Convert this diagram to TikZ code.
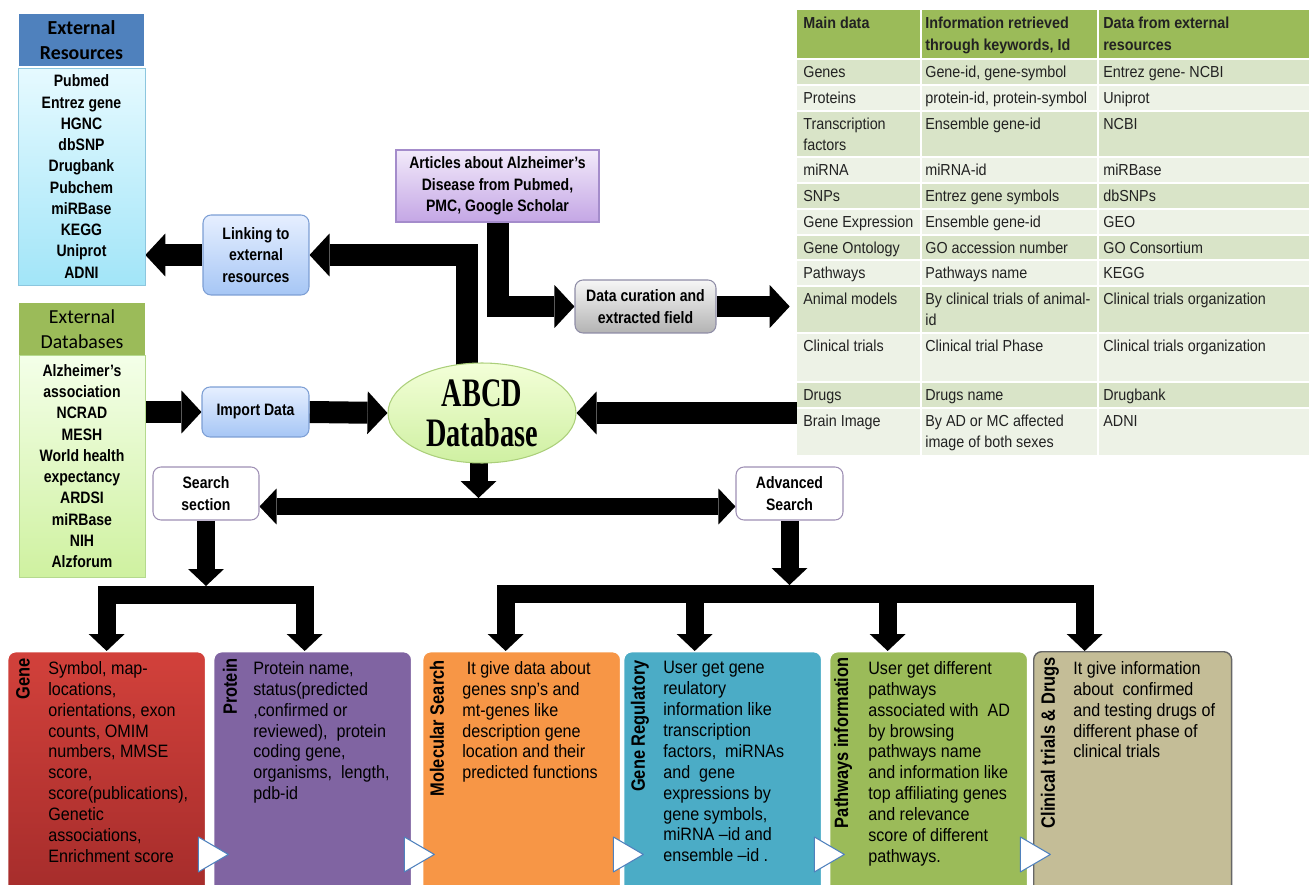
\documentclass[tikz,border=0pt]{standalone}
\usepackage{fontspec}
\setmainfont{Liberation Sans}
\newfontfamily\narrowsf[FakeStretch=0.85]{Liberation Sans}
\newfontfamily\bodysf[FakeStretch=0.9]{Liberation Sans}
\newfontfamily\headsf{Carlito}
\newfontfamily\abcdfont[FakeStretch=0.7]{Liberation Serif}
\usetikzlibrary{arrows.meta,positioning,shapes.geometric,backgrounds}

\definecolor{resblue}{HTML}{4F81BD}
\definecolor{restop}{HTML}{E6FAFF}
\definecolor{resbot}{HTML}{A2E5F8}
\definecolor{resline}{HTML}{8CC6DE}
\definecolor{dbgreen}{HTML}{9BBB59}
\definecolor{dbtop}{HTML}{F4FFE9}
\definecolor{dbbot}{HTML}{CFF1A0}
\definecolor{dbline}{HTML}{B5D98E}
\definecolor{lnktop}{HTML}{E6EFFF}
\definecolor{lnkbot}{HTML}{A6C6F5}
\definecolor{lnkline}{HTML}{7C9ED4}
\definecolor{arttop}{HTML}{F2EAFA}
\definecolor{artbot}{HTML}{C4A6E5}
\definecolor{artline}{HTML}{A48CCB}
\definecolor{curtop}{HTML}{F6F6F6}
\definecolor{curbot}{HTML}{B3B3B3}
\definecolor{curline}{HTML}{8E8CA6}
\definecolor{abcdtop}{HTML}{F3FFD8}
\definecolor{abcdbot}{HTML}{CFF0A2}
\definecolor{abcdline}{HTML}{ABCF7A}
\definecolor{srchline}{HTML}{9E8FB4}
\definecolor{genetop}{HTML}{D2413B}
\definecolor{genebot}{HTML}{A22B2A}
\definecolor{protcol}{HTML}{8064A2}
\definecolor{molcol}{HTML}{F79646}
\definecolor{regcol}{HTML}{4BACC6}
\definecolor{pathcol}{HTML}{9BBB59}
\definecolor{clincol}{HTML}{C4BD97}
\definecolor{tblA}{HTML}{D9E4C8}
\definecolor{tblB}{HTML}{EDF2E6}
\definecolor{tbltext}{HTML}{222222}

\begin{document}
\begin{tikzpicture}[x=0.02cm, y=-0.02cm,
    fat/.style={line width=0.44cm, line join=miter, -{Triangle[length=0.4cm, width=0.86cm, line width=0pt]}},
    fatdn/.style={line width=0.36cm, line join=miter, -{Triangle[length=0.34cm, width=0.72cm, line width=0pt]}},
    bus/.style={fatdn, {Triangle[length=0.34cm, width=0.72cm, line width=0pt]}-{Triangle[length=0.34cm, width=0.72cm, line width=0pt]}},
    lbl/.style={align=center, inner sep=0pt, font=\narrowsf\bfseries\fontsize{9.4}{12.1}\selectfont},
    hdr/.style={fill=#1, draw=white, line width=0.6pt, minimum width=2.54cm, minimum height=1.06cm, inner sep=0pt, align=center},
    box/.style={lbl, rounded corners=0.16cm, line width=0.6pt},
    card/.style={fill=#1, draw=white, line width=0.8pt, rounded corners=0.16cm, minimum width=3.96cm, minimum height=5.2cm, anchor=north west, inner sep=0pt},
    ttl/.style={rotate=90, anchor=east, inner sep=0pt, font=\narrowsf\bfseries\fontsize{11}{13}\selectfont},
    body/.style={anchor=north west, align=left, inner sep=0pt, font=\bodysf\fontsize{10.2}{11.9}\selectfont},
    tcell/.style={anchor=north west, align=left, inner sep=0pt, text=tbltext, font=\bodysf\fontsize{9.07}{11.9}\selectfont},
    chev/.style={fill=white, draw=resblue, line width=0.6pt, line join=round}
  ]
  \useasboundingbox (0,0) rectangle (1309,885);
  \clip (0,0) rectangle (1309,885);

  % Externe Quellen
  \node[hdr=resblue, font=\headsf\bfseries\fontsize{11.3}{14.2}\selectfont] (reshd) at (81.5,40) {External\\Resources};
  \node[lbl, draw=resline, top color=restop, bottom color=resbot, minimum width=2.54cm, minimum height=4.34cm] (res) at (81.5,176.5)
    {Pubmed\\Entrez gene\\HGNC\\dbSNP\\Drugbank\\Pubchem\\miRBase\\KEGG\\Uniprot\\ADNI};
  \node[hdr=dbgreen, font=\headsf\fontsize{11.3}{14.2}\selectfont] (dbhd) at (82,329) {External\\Databases};
  \node[lbl, draw=dbline, top color=dbtop, bottom color=dbbot, minimum width=2.52cm, minimum height=4.44cm] (db) at (82,466)
    {Alzheimer’s\\association\\NCRAD\\MESH\\World health\\expectancy\\ARDSI\\miRBase\\NIH\\Alzforum};

  % Kaesten
  \node[box, draw=lnkline, top color=lnktop, bottom color=lnkbot, minimum width=2.12cm, minimum height=1.6cm] (link) at (256,255) {Linking to\\external\\resources};
  \node[box, draw=lnkline, top color=lnktop, bottom color=lnkbot, minimum width=2.14cm, minimum height=1.0cm] (imp) at (255.5,412) {Import Data};
  \node[lbl, draw=artline, top color=arttop, bottom color=artbot, line width=0.6pt, minimum width=4.06cm, minimum height=1.44cm] (art) at (497.5,186)
    {Articles about Alzheimer’s\\Disease from Pubmed,\\PMC, Google Scholar};
  \node[box, draw=curline, top color=curtop, bottom color=curbot, minimum width=2.82cm, minimum height=1.06cm] (cur) at (645.5,306.5) {Data curation and\\extracted field};
  \node[ellipse, draw=abcdline, line width=0.6pt, top color=abcdtop, bottom color=abcdbot, minimum width=3.76cm, minimum height=2cm, inner sep=0pt] (abcd) at (482,413) {};
  \node[align=center, inner sep=0pt, font=\abcdfont\bfseries\fontsize{23}{22.7}\selectfont] (abcdtxt) at (abcd.center) {ABCD\\Database};
  \node[box, draw=srchline, fill=white, minimum width=2.12cm, minimum height=1.06cm] (srch) at (206,493.5) {Search\\section};
  \node[box, draw=srchline, fill=white, minimum width=2.14cm, minimum height=1.06cm] (adv) at (789.5,493.5) {Advanced\\Search};

  % Tabelle
  \node[minimum width=10.24cm, minimum height=8.9cm, inner sep=0pt] (tbl) at (1053,232.5) {};
  \fill[dbgreen] (797,10) rectangle (1309,59);
  \foreach \ya/\yb/\bg in {59/85/tblA, 85/111/tblB, 111/157/tblA, 157/183/tblB, 183/209/tblA, 209/235/tblB,
      235/260/tblA, 260/286/tblB, 286/333/tblA, 333/382/tblB, 382/408/tblA, 408/455/tblB}
    \fill[\bg] (797,\ya) rectangle (1309,\yb);
  \foreach \yy in {59,85,111,157,183,209,235,260,286,333,382,408}
    \draw[white, line width=0.8pt] (797,\yy) -- (1309,\yy);
  \foreach \xx in {921,1098}
    \draw[white, line width=1.4pt] (\xx,10) -- (\xx,455);
  \node[tcell, font=\bodysf\bfseries\fontsize{9.07}{12.4}\selectfont] (th1) at (803,17) {Main data};
  \node[tcell, font=\bodysf\bfseries\fontsize{9.07}{12.4}\selectfont] (th2) at (925,17) {Information retrieved\\through keywords, Id};
  \node[tcell, font=\bodysf\bfseries\fontsize{9.07}{12.4}\selectfont] (th3) at (1103,17) {Data from external\\resources};
  \foreach \ya/\ca/\cb/\cc [count=\i] in {
      59/Genes/{Gene-id, gene-symbol}/{Entrez gene- NCBI},
      85/Proteins/{protein-id, protein-symbol}/Uniprot,
      111/{Transcription\\factors}/Ensemble gene-id/NCBI,
      157/miRNA/miRNA-id/miRBase,
      183/SNPs/Entrez gene symbols/dbSNPs,
      209/Gene Expression/Ensemble gene-id/GEO,
      235/Gene Ontology/GO accession number/GO Consortium,
      260/Pathways/Pathways name/KEGG,
      286/Animal models/{By clinical trials of animal-\\id}/Clinical trials organization,
      333/Clinical trials/Clinical trial Phase/Clinical trials organization,
      382/Drugs/Drugs name/Drugbank,
      408/Brain Image/{By AD or MC affected\\image of both sexes}/ADNI}
  {
    \node[tcell] (tr\i a) at (803,\ya+7) {\ca};
    \node[tcell] (tr\i b) at (925,\ya+7) {\cb};
    \node[tcell] (tr\i c) at (1103,\ya+7) {\cc};
  }

  % Suchbereiche
  \node[card=genetop, top color=genetop, bottom color=genebot] (gene) at (7,651) {};
  \node[card=protcol] (prot) at (213,651) {};
  \node[card=molcol] (mol) at (422,651) {};
  \node[card=regcol] (reg) at (623,651) {};
  \node[card=pathcol] (path) at (829,651) {};
  \node[card=clincol, draw=black!60] (clin) at (1033,651) {};

  \node[ttl] (genet) at ([xshift=0.32cm,yshift=-0.14cm]gene.north west) {Gene};
  \node[ttl] (prott) at ([xshift=0.34cm,yshift=-0.14cm]prot.north west) {Protein};
  \node[ttl] (molt) at ([xshift=0.3cm,yshift=-0.18cm]mol.north west) {Molecular Search};
  \node[ttl] (regt) at ([xshift=0.34cm,yshift=-0.18cm]reg.north west) {Gene Regulatory};
  \node[ttl] (patht) at ([xshift=0.28cm,yshift=-0.12cm]path.north west) {Pathways information};
  \node[ttl] (clint) at ([xshift=0.34cm,yshift=-0.12cm]clin.north west) {Clinical trials \& Drugs};

  \node[body] (geneb) at ([xshift=0.82cm,yshift=-0.2cm]gene.north west)
    {Symbol, map-\\locations,\\orientations, exon\\counts, OMIM\\numbers, MMSE\\score,\\score(publications),\\Genetic\\associations,\\Enrichment score};
  \node[body] (protb) at ([xshift=0.8cm,yshift=-0.2cm]prot.north west)
    {Protein name,\\status(predicted\\,confirmed or\\reviewed),\ \ protein\\coding gene,\\organisms,\ \ length,\\pdb-id};
  \node[body] (molb) at ([xshift=0.8cm,yshift=-0.2cm]mol.north west)
    {\ It give data about\\genes snp’s and\\mt-genes like\\description gene\\location and their\\predicted functions};
  \node[body] (regb) at ([xshift=0.8cm,yshift=-0.2cm]reg.north west)
    {User get gene\\reulatory\\information like\\transcription\\factors,\ \ miRNAs\\and\ \ gene\\expressions by\\gene symbols,\\miRNA –id and\\ensemble –id .};
  \node[body] (pathb) at ([xshift=0.78cm,yshift=-0.2cm]path.north west)
    {User get different\\pathways\\associated with\ \ AD\\by browsing\\pathways name\\and information like\\top affiliating genes\\and relevance\\score of different\\pathways.};
  \node[body] (clinb) at ([xshift=0.8cm,yshift=-0.2cm]clin.north west)
    {It give information\\about\ \ confirmed\\and testing drugs of\\different phase of\\clinical trials};

  \foreach \c in {gene,prot,mol,reg,path}
    \draw[chev] ([shift={(-0.16cm,-3.72cm)}]\c.north east) -- ++(0,-0.7cm) -- ++(0.6cm,0.35cm) -- cycle;

  % Hilfspunkte
  \coordinate (hub) at ([yshift=-0.26cm]srch.east);
  \coordinate (lbus) at (205,595);
  \coordinate (rbus) at (788,594);
  \coordinate (t2) at ([xshift=-0.16cm]prot.north);
  \coordinate (t3) at ([xshift=-0.32cm]mol.north);
  \coordinate (t4) at ([xshift=-0.56cm]reg.north);
  \coordinate (t5) at ([xshift=-0.82cm]path.north);
  \coordinate (t6) at ([xshift=-0.96cm]clin.north);
  \coordinate (up) at ([xshift=-0.3cm,yshift=-0.2cm]abcd.north);
  \coordinate (dn) at ([xshift=-0.07cm,yshift=0.1cm]abcd.south);

  % Pfeile
  \begin{scope}[on background layer]
    \draw[fat] (up) |- (link.east);
    \draw[fat] (link.west) -- (link.west -| res.east);
    \draw[fat] (db.east |- imp.west) -- (imp.west);
    \draw[fat] (imp.east) -- (abcd.west);
    \draw[fat] (art.south) |- (cur.west);
    \draw[fat, shorten >=0.14cm] (cur.east) -- (cur.east -| tbl.west);
    \draw[fat] (tbl.west |- abcd.east) -- (abcd.east);
    \draw[fatdn, shorten >=0.17cm] (dn) -- (dn |- hub);
    \draw[bus] (hub) -- (hub -| adv.west);
    \draw[fatdn, shorten >=0.18cm] (srch.south) -- (srch.south |- lbus);
    \draw[fatdn, shorten >=0.18cm] (adv.south) -- (adv.south |- rbus);
    \draw[bus] (gene.north) |- (lbus) -| (t2);
    \draw[bus] (t3) |- (rbus) -| (t6);
    \draw[fatdn] (t4 |- rbus) -- (t4);
    \draw[fatdn] (t5 |- rbus) -- (t5);
  \end{scope}
\end{tikzpicture}
\end{document}
